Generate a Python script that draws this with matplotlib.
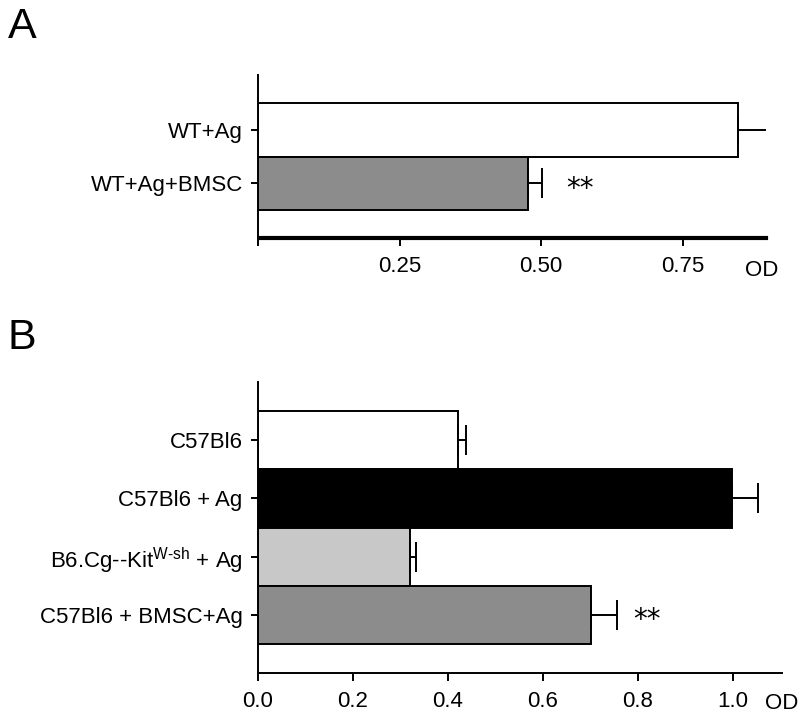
import matplotlib
matplotlib.use("Agg")
import matplotlib.pyplot as plt

plt.rcParams['font.family'] = ['Liberation Sans', 'DejaVu Sans']
plt.rcParams['mathtext.fontset'] = 'custom'
plt.rcParams['mathtext.rm'] = 'Liberation Sans'

# panel A
labels_a = ["WT+Ag", "WT+Ag+BMSC"]
values_a = [0.848, 0.477]
errors_a = [0.055, 0.025]
colors_a = ["white", "#8c8c8c"]
ticks_a = [0, 0.25, 0.50, 0.75]
ticklabels_a = ["", "0.25", "0.50", "0.75"]

# panel B
labels_b = ["C57Bl6", "C57Bl6 + Ag", r"B6.Cg--Kit$^{\text{W-sh}}$ + Ag", "C57Bl6 + BMSC+Ag"]
values_b = [0.42, 0.998, 0.32, 0.70]
errors_b = [0.017, 0.055, 0.012, 0.055]
colors_b = ["white", "black", "#c8c8c8", "#8c8c8c"]
ticks_b = [0.0, 0.2, 0.4, 0.6, 0.8, 1.0]

fig = plt.figure(figsize=(8, 7.16), dpi=100)


def draw_panel(ax, labels, values, errors, colors, xmax, star_x, star_idx, star_dy):
    n = len(labels)
    ypos = list(range(n - 1, -1, -1))
    ax.barh(ypos, values, height=1.0, color=colors, edgecolor="black", linewidth=1.4)
    ax.errorbar(values, ypos, xerr=[[0] * n, errors], fmt="none", ecolor="black",
                elinewidth=1.4, capsize=11, capthick=1.4)
    ax.set_yticks(ypos)
    ax.set_yticklabels(labels, fontsize=16)
    ax.set_xlim(0, xmax)
    for s in ["top", "right"]:
        ax.spines[s].set_visible(False)
    ax.spines["left"].set_linewidth(1.4)
    ax.tick_params(axis="y", length=5, width=1.4, pad=6)
    ax.tick_params(axis="x", length=6, width=1.4, labelsize=16, pad=7)
    ax.text(star_x, ypos[star_idx] - star_dy, "**", fontsize=20, va="center", ha="left",
            family="DejaVu Sans")


ax_a = fig.add_axes([258 / 800, 1 - 238 / 716, 508 / 800, 163 / 716])
draw_panel(ax_a, labels_a, values_a, errors_a, colors_a, 0.897, 0.545, 1, 0.1)
ax_a.set_ylim(-1.02, 2.02)
ax_a.set_xticks(ticks_a)
ax_a.set_xticklabels(ticklabels_a)
ax_a.spines["bottom"].set_linewidth(3)
ax_a.spines["bottom"].set_bounds(0.006, 0.897)
ax_a.text(0.992, -0.20, "OD", transform=ax_a.transAxes, fontsize=16, ha="center", va="center")

ax_b = fig.add_axes([258 / 800, 1 - 673 / 716, 524 / 800, 291 / 716])
draw_panel(ax_b, labels_b, values_b, errors_b, colors_b, 1.103, 0.79, 3, 0.09)
ax_b.set_ylim(-1.0, 4.0)
ax_b.set_xticks(ticks_b)
ax_b.set_xticklabels([f"{t:.1f}" for t in ticks_b])
ax_b.spines["bottom"].set_linewidth(1.4)
ax_b.text(1.0, -0.105, "OD", transform=ax_b.transAxes, fontsize=16, ha="center", va="center")

fig.text(22 / 800, 1 - 27 / 716, "A", fontsize=31, family="Liberation Sans", ha="center", va="center")
fig.text(22 / 800, 1 - 338 / 716, "B", fontsize=31, family="Liberation Sans", ha="center", va="center")

fig.savefig("out.png", dpi=100, facecolor="white")
